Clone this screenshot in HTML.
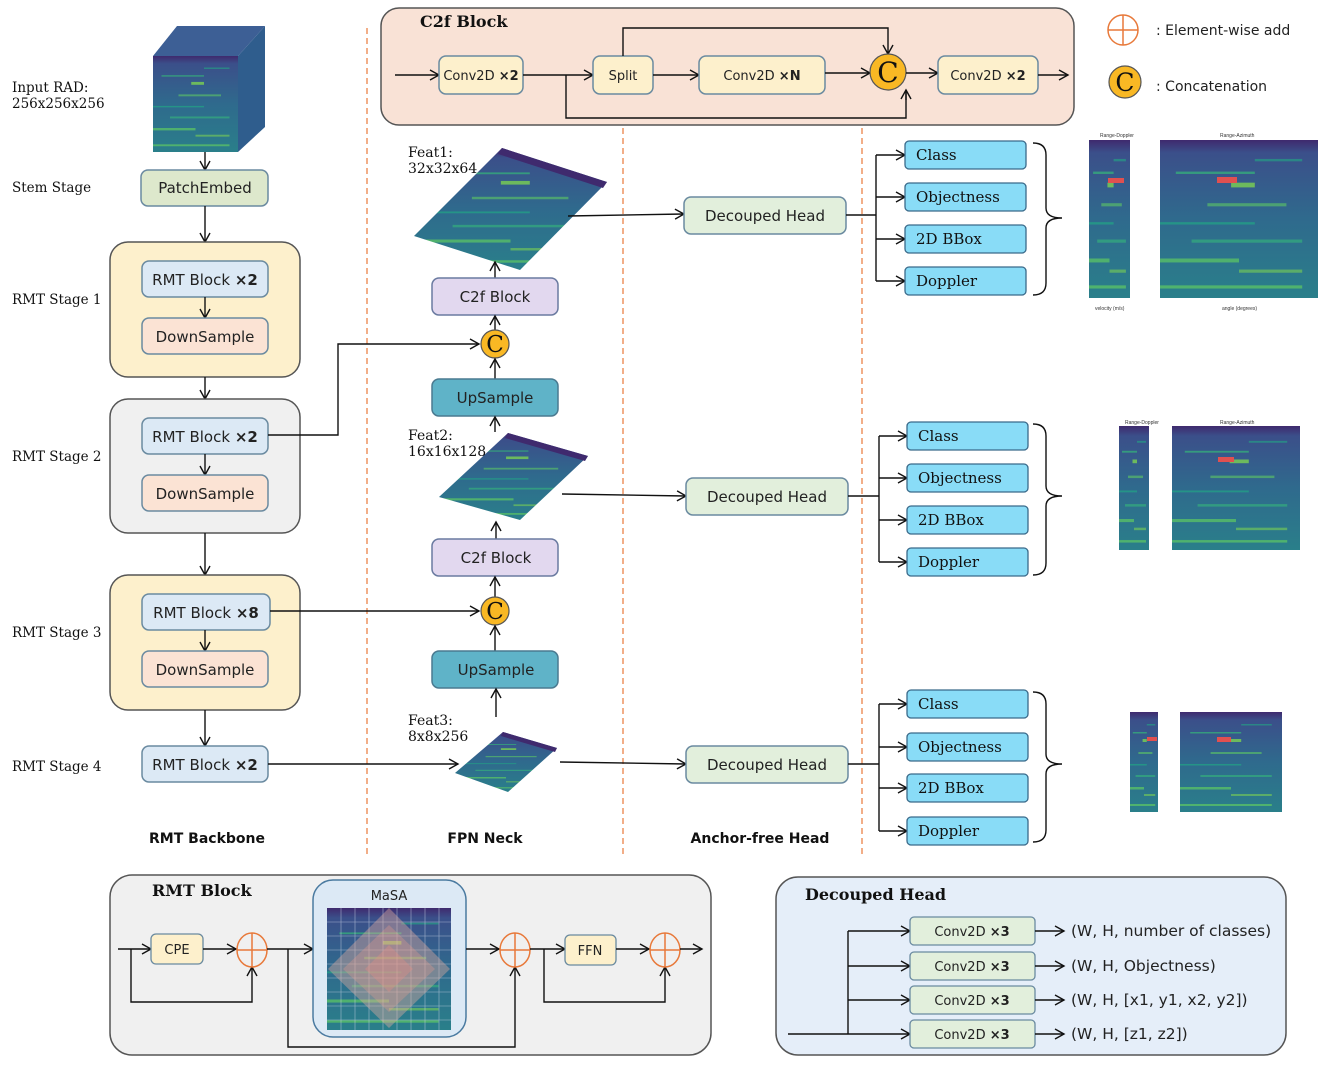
<!DOCTYPE html>
<html><head><meta charset="utf-8"><style>
html,body{margin:0;padding:0;background:#fff}
svg{display:block}
.s{font-family:"DejaVu Sans","Liberation Sans",sans-serif;font-size:14px;fill:#222}
.sf{font-family:"DejaVu Serif","Liberation Serif",serif;font-size:14px;fill:#111}
.bt{font-family:"DejaVu Serif","Liberation Serif",serif;font-size:16px;font-weight:bold;fill:#111}
.lb{font-family:"DejaVu Sans","Liberation Sans",sans-serif;font-size:14px;font-weight:bold;fill:#111}
.ln{stroke:#111;stroke-width:1.4;fill:none}
</style></head><body>
<svg width="1329" height="1066" viewBox="0 0 1329 1066" xmlns="http://www.w3.org/2000/svg">
<defs>
<marker id="a" markerWidth="12" markerHeight="12" refX="10" refY="6" orient="auto" markerUnits="userSpaceOnUse"><path d="M1,1 L10,6 L1,11" fill="none" stroke="#111" stroke-width="1.4"/></marker>
<linearGradient id="hg" x1="0" y1="0" x2="0" y2="1">
<stop offset="0" stop-color="#3f2a6e"/><stop offset="0.08" stop-color="#3b4f8a"/><stop offset="0.5" stop-color="#2f6a8d"/><stop offset="1" stop-color="#2a7f8a"/></linearGradient>
<pattern id="hm" width="1" height="1" patternUnits="objectBoundingBox" patternContentUnits="objectBoundingBox">
<rect width="1" height="1" fill="url(#hg)"/>
<rect x="0.1" y="0.2" width="0.5" height="0.015" fill="#35b779" opacity=".7"/>
<rect x="0.45" y="0.27" width="0.15" height="0.03" fill="#7ad151" opacity=".8"/>
<rect x="0.3" y="0.4" width="0.5" height="0.02" fill="#5ec962" opacity=".6"/>
<rect x="0" y="0.52" width="0.6" height="0.015" fill="#21a585" opacity=".7"/>
<rect x="0.2" y="0.63" width="0.7" height="0.02" fill="#35b779" opacity=".6"/>
<rect x="0" y="0.75" width="0.5" height="0.025" fill="#5ec962" opacity=".7"/>
<rect x="0.5" y="0.82" width="0.4" height="0.02" fill="#7ad151" opacity=".6"/>
<rect x="0" y="0.92" width="0.9" height="0.02" fill="#5ec962" opacity=".7"/>
<rect x="0.6" y="0.12" width="0.3" height="0.015" fill="#22a884" opacity=".6"/>
</pattern>
</defs>

<g stroke="#e8793a" stroke-width="1.2" stroke-dasharray="6,4">
<line x1="367" y1="28" x2="367" y2="855"/><line x1="623" y1="128" x2="623" y2="855"/><line x1="862" y1="128" x2="862" y2="855"/>
</g>

<text class="sf" x="12" y="92" style="font-size:13.5px">Input RAD:</text><text class="sf" x="12" y="108" style="font-size:13.5px">256x256x256</text>
<text class="sf" x="12" y="192" style="font-size:13.5px">Stem Stage</text>
<text class="sf" x="12" y="304" style="font-size:13.5px">RMT Stage 1</text>
<text class="sf" x="12" y="461" style="font-size:13.5px">RMT Stage 2</text>
<text class="sf" x="12" y="637" style="font-size:13.5px">RMT Stage 3</text>
<text class="sf" x="12" y="771" style="font-size:13.5px">RMT Stage 4</text>

<polygon points="153,56 177,26 265,26 238,56" fill="#3d5f95"/>
<polygon points="238,56 265,26 265,127 238,152" fill="#2f5d8d"/>
<rect x="153" y="56" width="85" height="96" fill="url(#hm)"/>
<line class="ln" x1="205" y1="152" x2="205" y2="170" marker-end="url(#a)"/>

<rect x="141" y="170" width="127" height="36" rx="7" fill="#dde8cc" stroke="#6a8aa0" stroke-width="1.5"/>
<text class="s" x="205" y="193" text-anchor="middle" style="font-size:15px">PatchEmbed</text>
<line class="ln" x1="205" y1="206" x2="205" y2="242" marker-end="url(#a)"/>

<rect x="110" y="242" width="190" height="135" rx="18" fill="#fdf0cc" stroke="#555" stroke-width="1.5"/>
<rect x="142" y="261" width="126" height="36" rx="7" fill="#dce9f5" stroke="#6a8aa0" stroke-width="1.5"/>
<text class="s" x="205" y="285" text-anchor="middle" style="font-size:15px">RMT Block <tspan font-weight="bold">×2</tspan></text>
<line class="ln" x1="205" y1="297" x2="205" y2="318" marker-end="url(#a)"/>
<rect x="142" y="318" width="126" height="36" rx="7" fill="#fbe3d4" stroke="#6a8aa0" stroke-width="1.5"/>
<text class="s" x="205" y="342" text-anchor="middle" style="font-size:15px">DownSample</text>
<line class="ln" x1="205" y1="377" x2="205" y2="399" marker-end="url(#a)"/>

<rect x="110" y="399" width="190" height="134" rx="18" fill="#f0f0f0" stroke="#555" stroke-width="1.5"/>
<rect x="142" y="418" width="126" height="36" rx="7" fill="#dce9f5" stroke="#6a8aa0" stroke-width="1.5"/>
<text class="s" x="205" y="442" text-anchor="middle" style="font-size:15px">RMT Block <tspan font-weight="bold">×2</tspan></text>
<line class="ln" x1="205" y1="454" x2="205" y2="475" marker-end="url(#a)"/>
<rect x="142" y="475" width="126" height="36" rx="7" fill="#fbe3d4" stroke="#6a8aa0" stroke-width="1.5"/>
<text class="s" x="205" y="499" text-anchor="middle" style="font-size:15px">DownSample</text>
<line class="ln" x1="205" y1="533" x2="205" y2="575" marker-end="url(#a)"/>

<rect x="110" y="575" width="190" height="135" rx="18" fill="#fdf0cc" stroke="#555" stroke-width="1.5"/>
<rect x="142" y="594" width="128" height="36" rx="7" fill="#dce9f5" stroke="#6a8aa0" stroke-width="1.5"/>
<text class="s" x="206" y="618" text-anchor="middle" style="font-size:15px">RMT Block <tspan font-weight="bold">×8</tspan></text>
<line class="ln" x1="205" y1="630" x2="205" y2="651" marker-end="url(#a)"/>
<rect x="142" y="651" width="126" height="36" rx="7" fill="#fbe3d4" stroke="#6a8aa0" stroke-width="1.5"/>
<text class="s" x="205" y="675" text-anchor="middle" style="font-size:15px">DownSample</text>
<line class="ln" x1="205" y1="710" x2="205" y2="746" marker-end="url(#a)"/>

<rect x="142" y="746" width="126" height="36" rx="7" fill="#dce9f5" stroke="#6a8aa0" stroke-width="1.5"/>
<text class="s" x="205" y="770" text-anchor="middle" style="font-size:15px">RMT Block <tspan font-weight="bold">×2</tspan></text>

<polyline class="ln" points="268,435 338,435 338,344 479,344" marker-end="url(#a)"/>
<line class="ln" x1="270" y1="611" x2="479" y2="611" marker-end="url(#a)"/>
<line class="ln" x1="268" y1="764" x2="458" y2="764" marker-end="url(#a)"/>

<polygon points="502,148 607,182 520,270 414,236" fill="url(#hm)"/>
<polygon points="502,148 607,182 603,188 498,154" fill="#3f2a6e"/>
<text class="sf" x="408" y="157">Feat1:</text><text class="sf" x="408" y="173">32x32x64</text>
<line class="ln" x1="495" y1="278" x2="495" y2="262" marker-end="url(#a)"/>
<rect x="432" y="278" width="126" height="37" rx="7" fill="#e2d8ef" stroke="#6a7aa0" stroke-width="1.5"/>
<text class="s" x="495" y="302" text-anchor="middle" style="font-size:15px">C2f Block</text>
<line class="ln" x1="495" y1="330" x2="495" y2="316" marker-end="url(#a)"/>
<circle cx="495" cy="344" r="14" fill="#f9b824" stroke="#555" stroke-width="1.2"/>
<text class="sf" x="495" y="352" text-anchor="middle" style="font-size:23px">C</text>
<line class="ln" x1="495" y1="379" x2="495" y2="359" marker-end="url(#a)"/>
<rect x="432" y="379" width="126" height="37" rx="7" fill="#5fb3c8" stroke="#4a7a90" stroke-width="1.5"/>
<text class="s" x="495" y="403" text-anchor="middle" style="font-size:15px">UpSample</text>
<line class="ln" x1="495" y1="432" x2="495" y2="417" marker-end="url(#a)"/>

<polygon points="508,433 588,456 520,520 439,497" fill="url(#hm)"/>
<polygon points="508,433 588,456 585,461 505,438" fill="#3f2a6e"/>
<text class="sf" x="408" y="440">Feat2:</text><text class="sf" x="408" y="456">16x16x128</text>
<line class="ln" x1="496" y1="539" x2="496" y2="522" marker-end="url(#a)"/>
<rect x="432" y="539" width="126" height="37" rx="7" fill="#e2d8ef" stroke="#6a7aa0" stroke-width="1.5"/>
<text class="s" x="496" y="563" text-anchor="middle" style="font-size:15px">C2f Block</text>
<line class="ln" x1="495" y1="597" x2="495" y2="577" marker-end="url(#a)"/>
<circle cx="495" cy="611" r="14" fill="#f9b824" stroke="#555" stroke-width="1.2"/>
<text class="sf" x="495" y="619" text-anchor="middle" style="font-size:23px">C</text>
<line class="ln" x1="495" y1="651" x2="495" y2="626" marker-end="url(#a)"/>
<rect x="432" y="651" width="126" height="37" rx="7" fill="#5fb3c8" stroke="#4a7a90" stroke-width="1.5"/>
<text class="s" x="496" y="675" text-anchor="middle" style="font-size:15px">UpSample</text>
<line class="ln" x1="496" y1="717" x2="496" y2="689" marker-end="url(#a)"/>

<polygon points="503,732 557,748 508,792 455,773" fill="url(#hm)"/>
<polygon points="503,732 557,748 555,752 501,736" fill="#3f2a6e"/>
<text class="sf" x="408" y="725">Feat3:</text><text class="sf" x="408" y="741">8x8x256</text>

<line class="ln" x1="568" y1="216" x2="684" y2="214" marker-end="url(#a)"/>
<line class="ln" x1="562" y1="494" x2="686" y2="496" marker-end="url(#a)"/>
<line class="ln" x1="560" y1="762" x2="686" y2="764" marker-end="url(#a)"/>

<rect x="684" y="197" width="162" height="37" rx="7" fill="#e2efdc" stroke="#6a8aa0" stroke-width="1.5"/>
<text class="s" x="765" y="221" text-anchor="middle" style="font-size:15px">Decouped Head</text>
<rect x="686" y="478" width="162" height="37" rx="7" fill="#e2efdc" stroke="#6a8aa0" stroke-width="1.5"/>
<text class="s" x="767" y="502" text-anchor="middle" style="font-size:15px">Decouped Head</text>
<rect x="686" y="746" width="162" height="37" rx="7" fill="#e2efdc" stroke="#6a8aa0" stroke-width="1.5"/>
<text class="s" x="767" y="770" text-anchor="middle" style="font-size:15px">Decouped Head</text>

<g>
<line class="ln" x1="846" y1="215" x2="876" y2="215"/>
<line class="ln" x1="876" y1="155" x2="876" y2="281"/>
<line class="ln" x1="876" y1="155" x2="905" y2="155" marker-end="url(#a)"/>
<line class="ln" x1="876" y1="197" x2="905" y2="197" marker-end="url(#a)"/>
<line class="ln" x1="876" y1="239" x2="905" y2="239" marker-end="url(#a)"/>
<line class="ln" x1="876" y1="281" x2="905" y2="281" marker-end="url(#a)"/>
<rect x="905" y="141" width="121" height="28" rx="4" fill="#89dcf7" stroke="#3a6a8a" stroke-width="1.3"/>
<rect x="905" y="183" width="121" height="28" rx="4" fill="#89dcf7" stroke="#3a6a8a" stroke-width="1.3"/>
<rect x="905" y="225" width="121" height="28" rx="4" fill="#89dcf7" stroke="#3a6a8a" stroke-width="1.3"/>
<rect x="905" y="267" width="121" height="28" rx="4" fill="#89dcf7" stroke="#3a6a8a" stroke-width="1.3"/>
<text class="sf" x="916" y="160" style="font-size:15px">Class</text>
<text class="sf" x="916" y="202" style="font-size:15px">Objectness</text>
<text class="sf" x="916" y="244" style="font-size:15px">2D BBox</text>
<text class="sf" x="916" y="286" style="font-size:15px">Doppler</text>
<path class="ln" d="M1033,143 Q1046,143 1046,155 L1046,208 Q1046,218 1062,218 Q1046,218 1046,228 L1046,283 Q1046,295 1033,295"/>
</g>
<g>
<line class="ln" x1="848" y1="496" x2="879" y2="496"/>
<line class="ln" x1="879" y1="436" x2="879" y2="562"/>
<line class="ln" x1="879" y1="436" x2="907" y2="436" marker-end="url(#a)"/>
<line class="ln" x1="879" y1="478" x2="907" y2="478" marker-end="url(#a)"/>
<line class="ln" x1="879" y1="520" x2="907" y2="520" marker-end="url(#a)"/>
<line class="ln" x1="879" y1="562" x2="907" y2="562" marker-end="url(#a)"/>
<rect x="907" y="422" width="121" height="28" rx="4" fill="#89dcf7" stroke="#3a6a8a" stroke-width="1.3"/>
<rect x="907" y="464" width="121" height="28" rx="4" fill="#89dcf7" stroke="#3a6a8a" stroke-width="1.3"/>
<rect x="907" y="506" width="121" height="28" rx="4" fill="#89dcf7" stroke="#3a6a8a" stroke-width="1.3"/>
<rect x="907" y="548" width="121" height="28" rx="4" fill="#89dcf7" stroke="#3a6a8a" stroke-width="1.3"/>
<text class="sf" x="918" y="441" style="font-size:15px">Class</text>
<text class="sf" x="918" y="483" style="font-size:15px">Objectness</text>
<text class="sf" x="918" y="525" style="font-size:15px">2D BBox</text>
<text class="sf" x="918" y="567" style="font-size:15px">Doppler</text>
<path class="ln" d="M1033,424 Q1046,424 1046,436 L1046,486 Q1046,496 1062,496 Q1046,496 1046,506 L1046,563 Q1046,575 1033,575"/>
</g>
<g>
<line class="ln" x1="848" y1="764" x2="879" y2="764"/>
<line class="ln" x1="879" y1="704" x2="879" y2="831"/>
<line class="ln" x1="879" y1="704" x2="907" y2="704" marker-end="url(#a)"/>
<line class="ln" x1="879" y1="747" x2="907" y2="747" marker-end="url(#a)"/>
<line class="ln" x1="879" y1="788" x2="907" y2="788" marker-end="url(#a)"/>
<line class="ln" x1="879" y1="831" x2="907" y2="831" marker-end="url(#a)"/>
<rect x="907" y="690" width="121" height="28" rx="4" fill="#89dcf7" stroke="#3a6a8a" stroke-width="1.3"/>
<rect x="907" y="733" width="121" height="28" rx="4" fill="#89dcf7" stroke="#3a6a8a" stroke-width="1.3"/>
<rect x="907" y="774" width="121" height="28" rx="4" fill="#89dcf7" stroke="#3a6a8a" stroke-width="1.3"/>
<rect x="907" y="817" width="121" height="28" rx="4" fill="#89dcf7" stroke="#3a6a8a" stroke-width="1.3"/>
<text class="sf" x="918" y="709" style="font-size:15px">Class</text>
<text class="sf" x="918" y="752" style="font-size:15px">Objectness</text>
<text class="sf" x="918" y="793" style="font-size:15px">2D BBox</text>
<text class="sf" x="918" y="836" style="font-size:15px">Doppler</text>
<path class="ln" d="M1033,692 Q1046,692 1046,704 L1046,754 Q1046,764 1062,764 Q1046,764 1046,774 L1046,830 Q1046,842 1033,842"/>
</g>

<g font-family="Liberation Sans,sans-serif" style="font-size:5px" fill="#333">
<rect x="1089" y="140" width="41" height="158" fill="url(#hm)"/>
<rect x="1160" y="140" width="158" height="158" fill="url(#hm)"/>
<rect x="1108" y="178" width="16" height="5" fill="#e05050"/>
<rect x="1217" y="177" width="20" height="6" fill="#e05050"/>
<text x="1100" y="137">Range-Doppler</text><text x="1220" y="137">Range-Azimuth</text>
<text x="1095" y="310">velocity (m/s)</text><text x="1222" y="310">angle (degrees)</text>
<rect x="1119" y="426" width="30" height="124" fill="url(#hm)"/>
<rect x="1172" y="426" width="128" height="124" fill="url(#hm)"/>
<rect x="1218" y="457" width="16" height="5" fill="#e05050"/>
<text x="1125" y="424">Range-Doppler</text><text x="1220" y="424">Range-Azimuth</text>
<rect x="1130" y="712" width="28" height="100" fill="url(#hm)"/>
<rect x="1180" y="712" width="102" height="100" fill="url(#hm)"/>
<rect x="1217" y="737" width="14" height="5" fill="#e05050"/>
<rect x="1147" y="737" width="10" height="4" fill="#e05050"/>
</g>

<text class="lb" x="207" y="843" text-anchor="middle">RMT  Backbone</text>
<text class="lb" x="485" y="843" text-anchor="middle">FPN Neck</text>
<text class="lb" x="760" y="843" text-anchor="middle">Anchor-free Head</text>

<rect x="381" y="8" width="693" height="117" rx="18" fill="#f9e2d6" stroke="#555" stroke-width="1.5"/>
<text class="bt" x="420" y="27">C2f Block</text>
<line class="ln" x1="395" y1="75" x2="439" y2="75" marker-end="url(#a)"/>
<rect x="439" y="56" width="84" height="38" rx="7" fill="#fdf0cc" stroke="#6a8aa0" stroke-width="1.5"/>
<text class="s" x="481" y="80" text-anchor="middle" style="font-size:13px">Conv2D <tspan font-weight="bold">×2</tspan></text>
<line class="ln" x1="523" y1="75" x2="593" y2="75" marker-end="url(#a)"/>
<polyline class="ln" points="566,75 566,118 906,118 906,90"/>
<line class="ln" x1="906" y1="100" x2="906" y2="90" marker-end="url(#a)"/>
<rect x="593" y="56" width="60" height="38" rx="7" fill="#fdf0cc" stroke="#6a8aa0" stroke-width="1.5"/>
<text class="s" x="623" y="80" text-anchor="middle" style="font-size:13px">Split</text>
<polyline class="ln" points="623,56 623,28 888,28 888,54" marker-end="url(#a)"/>
<line class="ln" x1="653" y1="75" x2="699" y2="75" marker-end="url(#a)"/>
<rect x="699" y="56" width="126" height="38" rx="7" fill="#fdf0cc" stroke="#6a8aa0" stroke-width="1.5"/>
<text class="s" x="762" y="80" text-anchor="middle" style="font-size:13px">Conv2D <tspan font-weight="bold">×N</tspan></text>
<line class="ln" x1="825" y1="73" x2="870" y2="73" marker-end="url(#a)"/>
<circle cx="888" cy="72" r="18" fill="#f9b824" stroke="#555" stroke-width="1.2"/>
<text class="sf" x="888" y="82" text-anchor="middle" style="font-size:28px">C</text>
<line class="ln" x1="906" y1="73" x2="938" y2="73" marker-end="url(#a)"/>
<rect x="938" y="56" width="100" height="38" rx="7" fill="#fdf0cc" stroke="#6a8aa0" stroke-width="1.5"/>
<text class="s" x="988" y="80" text-anchor="middle" style="font-size:13px">Conv2D <tspan font-weight="bold">×2</tspan></text>
<line class="ln" x1="1038" y1="75" x2="1068" y2="75" marker-end="url(#a)"/>

<circle cx="1123" cy="30" r="15" fill="none" stroke="#e8793a" stroke-width="1.5"/>
<line x1="1108" y1="30" x2="1138" y2="30" stroke="#e8793a" stroke-width="1.5"/>
<line x1="1123" y1="15" x2="1123" y2="45" stroke="#e8793a" stroke-width="1.5"/>
<text class="s" x="1156" y="35">: Element-wise add</text>
<circle cx="1125" cy="82" r="16" fill="#f9b824" stroke="#555" stroke-width="1.2"/>
<text class="sf" x="1125" y="91" text-anchor="middle" style="font-size:25px">C</text>
<text class="s" x="1156" y="91">: Concatenation</text>

<rect x="110" y="875" width="601" height="180" rx="22" fill="#f0f0f0" stroke="#555" stroke-width="1.5"/>
<text class="bt" x="152" y="896">RMT Block</text>
<line class="ln" x1="118" y1="949" x2="151" y2="949" marker-end="url(#a)"/>
<polyline class="ln" points="131,949 131,1002 252,1002 252,967" marker-end="url(#a)"/>
<rect x="151" y="934" width="52" height="30" rx="5" fill="#fdf0cc" stroke="#6a8aa0" stroke-width="1.3"/>
<text class="s" x="177" y="954" text-anchor="middle" style="font-size:13px">CPE</text>
<line class="ln" x1="203" y1="949" x2="236" y2="949" marker-end="url(#a)"/>
<ellipse cx="252" cy="950" rx="15" ry="17" fill="none" stroke="#e8793a" stroke-width="1.5"/>
<line x1="237" y1="950" x2="267" y2="950" stroke="#e8793a" stroke-width="1.5"/><line x1="252" y1="933" x2="252" y2="967" stroke="#e8793a" stroke-width="1.5"/>
<line class="ln" x1="267" y1="949" x2="313" y2="949" marker-end="url(#a)"/>
<polyline class="ln" points="288,949 288,1047 515,1047 515,967" marker-end="url(#a)"/>
<rect x="313" y="880" width="153" height="157" rx="20" fill="#dce9f5" stroke="#4a7aa0" stroke-width="1.5"/>
<text class="s" x="389" y="900" text-anchor="middle" style="font-size:13px">MaSA</text>
<rect x="327" y="908" width="124" height="122" fill="url(#hm)"/>
<g stroke="#cfd8e8" stroke-width=".6" opacity=".7">
<line x1="341" y1="908" x2="341" y2="1030"/><line x1="355" y1="908" x2="355" y2="1030"/><line x1="369" y1="908" x2="369" y2="1030"/><line x1="383" y1="908" x2="383" y2="1030"/><line x1="397" y1="908" x2="397" y2="1030"/><line x1="411" y1="908" x2="411" y2="1030"/><line x1="425" y1="908" x2="425" y2="1030"/><line x1="439" y1="908" x2="439" y2="1030"/>
<line x1="327" y1="922" x2="451" y2="922"/><line x1="327" y1="936" x2="451" y2="936"/><line x1="327" y1="950" x2="451" y2="950"/><line x1="327" y1="964" x2="451" y2="964"/><line x1="327" y1="978" x2="451" y2="978"/><line x1="327" y1="992" x2="451" y2="992"/><line x1="327" y1="1006" x2="451" y2="1006"/><line x1="327" y1="1020" x2="451" y2="1020"/>
</g>
<polygon points="389,908 450,969 389,1028 328,969" fill="#e8b0a0" opacity=".4"/>
<polygon points="389,925 435,969 389,1012 343,969" fill="#f0a090" opacity=".3"/>
<polygon points="389,945 413,969 389,992 365,969" fill="#f09080" opacity=".3"/>
<line class="ln" x1="466" y1="949" x2="499" y2="949" marker-end="url(#a)"/>
<ellipse cx="515" cy="950" rx="15" ry="17" fill="none" stroke="#e8793a" stroke-width="1.5"/>
<line x1="500" y1="950" x2="530" y2="950" stroke="#e8793a" stroke-width="1.5"/><line x1="515" y1="933" x2="515" y2="967" stroke="#e8793a" stroke-width="1.5"/>
<line class="ln" x1="530" y1="949" x2="565" y2="949" marker-end="url(#a)"/>
<polyline class="ln" points="544,949 544,1002 665,1002 665,967" marker-end="url(#a)"/>
<rect x="565" y="935" width="51" height="30" rx="5" fill="#fdf0cc" stroke="#6a8aa0" stroke-width="1.3"/>
<text class="s" x="590" y="955" text-anchor="middle" style="font-size:13px">FFN</text>
<line class="ln" x1="616" y1="949" x2="649" y2="949" marker-end="url(#a)"/>
<ellipse cx="665" cy="950" rx="15" ry="17" fill="none" stroke="#e8793a" stroke-width="1.5"/>
<line x1="650" y1="950" x2="680" y2="950" stroke="#e8793a" stroke-width="1.5"/><line x1="665" y1="933" x2="665" y2="967" stroke="#e8793a" stroke-width="1.5"/>
<line class="ln" x1="680" y1="949" x2="702" y2="949" marker-end="url(#a)"/>

<rect x="776" y="877" width="510" height="178" rx="22" fill="#e5eef9" stroke="#555" stroke-width="1.5"/>
<text class="bt" x="805" y="900">Decouped Head</text>
<line class="ln" x1="788" y1="1034" x2="910" y2="1034" marker-end="url(#a)"/>
<line class="ln" x1="848" y1="931" x2="848" y2="1034"/>
<line class="ln" x1="848" y1="931" x2="910" y2="931" marker-end="url(#a)"/>
<line class="ln" x1="848" y1="966" x2="910" y2="966" marker-end="url(#a)"/>
<line class="ln" x1="848" y1="1000" x2="910" y2="1000" marker-end="url(#a)"/>
<rect x="910" y="917" width="125" height="28" rx="4" fill="#e2efdc" stroke="#6a8aa0" stroke-width="1.3"/>
<rect x="910" y="952" width="125" height="28" rx="4" fill="#e2efdc" stroke="#6a8aa0" stroke-width="1.3"/>
<rect x="910" y="986" width="125" height="28" rx="4" fill="#e2efdc" stroke="#6a8aa0" stroke-width="1.3"/>
<rect x="910" y="1020" width="125" height="28" rx="4" fill="#e2efdc" stroke="#6a8aa0" stroke-width="1.3"/>
<text class="s" x="972" y="936" text-anchor="middle" style="font-size:13px">Conv2D <tspan font-weight="bold">×3</tspan></text>
<text class="s" x="972" y="971" text-anchor="middle" style="font-size:13px">Conv2D <tspan font-weight="bold">×3</tspan></text>
<text class="s" x="972" y="1005" text-anchor="middle" style="font-size:13px">Conv2D <tspan font-weight="bold">×3</tspan></text>
<text class="s" x="972" y="1039" text-anchor="middle" style="font-size:13px">Conv2D <tspan font-weight="bold">×3</tspan></text>
<line class="ln" x1="1035" y1="931" x2="1064" y2="931" marker-end="url(#a)"/>
<line class="ln" x1="1035" y1="966" x2="1064" y2="966" marker-end="url(#a)"/>
<line class="ln" x1="1035" y1="1000" x2="1064" y2="1000" marker-end="url(#a)"/>
<line class="ln" x1="1035" y1="1034" x2="1064" y2="1034" marker-end="url(#a)"/>
<text class="s" x="1071" y="936" style="font-size:15.5px">(W, H, number of classes)</text>
<text class="s" x="1071" y="971" style="font-size:15.5px">(W, H, Objectness)</text>
<text class="s" x="1071" y="1005" style="font-size:15.5px">(W, H, [x1, y1, x2, y2])</text>
<text class="s" x="1071" y="1039" style="font-size:15.5px">(W, H, [z1, z2])</text>
</svg>
</body></html>
